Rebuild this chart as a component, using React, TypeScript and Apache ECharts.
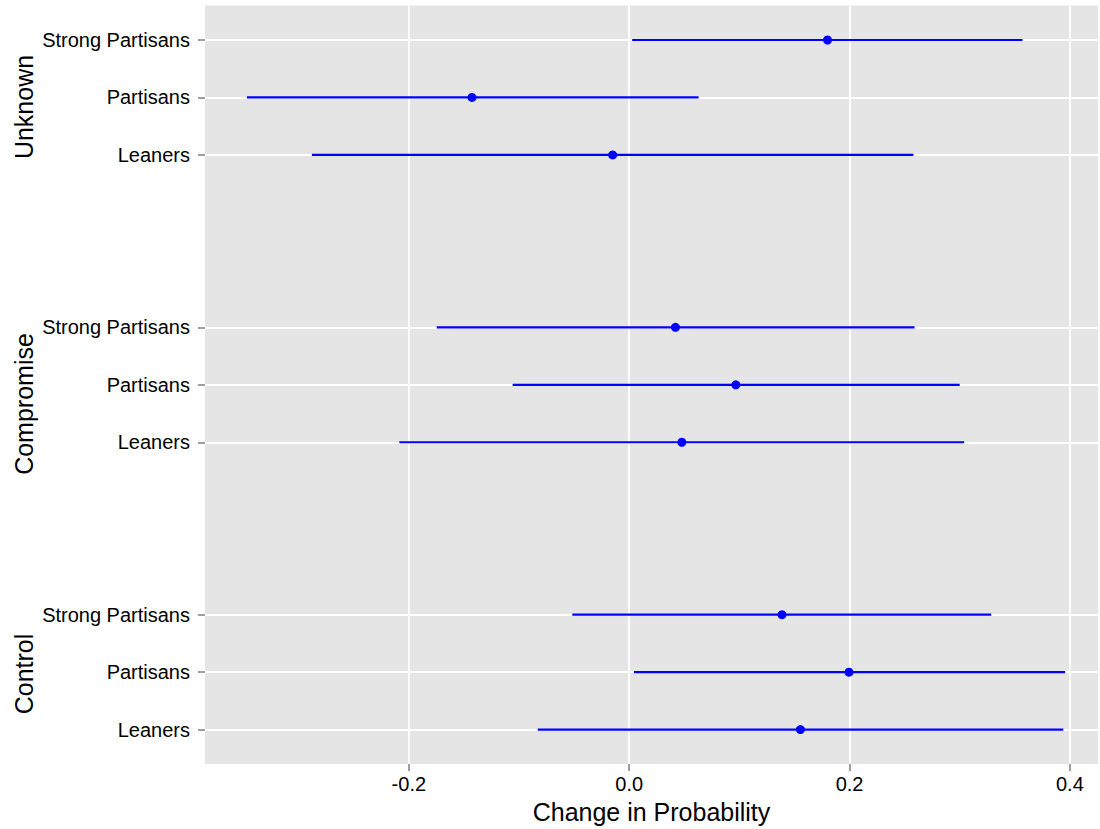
import React, { useEffect, useRef } from "react";
import * as echarts from "echarts";

// Groups (top to bottom) and partisan levels within each group
const groups = ["Unknown", "Compromise", "Control"];
const levels = ["Strong Partisans", "Partisans", "Leaners"];

// Point estimates, per group, in level order
const estUnknown = [0.18, -0.1427, -0.015];
const estCompromise = [0.042, 0.0968, 0.0478];
const estControl = [0.1387, 0.1995, 0.1554];

// Lower bounds
const lowUnknown = [0.0027, -0.347, -0.288];
const lowCompromise = [-0.1747, -0.1058, -0.2086];
const lowControl = [-0.0516, 0.0042, -0.083];

// Upper bounds
const highUnknown = [0.357, 0.063, 0.258];
const highCompromise = [0.259, 0.3, 0.304];
const highControl = [0.3286, 0.3957, 0.394];

// X tick values
const xTicks = [-0.2, 0, 0.2, 0.4];

const SLOTS_PER_GROUP = 5; // 3 rows + 2 blank rows between groups
const FONT = "'Liberation Sans', Arial, Helvetica, sans-serif";
const BLUE = "#0000FF";

export default function App() {
  const ref = useRef<HTMLDivElement>(null);

  useEffect(() => {
    if (!ref.current) return;
    const chart = echarts.init(ref.current, null, { renderer: "svg" });

    const est = [estUnknown, estCompromise, estControl];
    const low = [lowUnknown, lowCompromise, lowControl];
    const high = [highUnknown, highCompromise, highControl];

    const slots: number[] = [];
    const whiskers: number[][] = [];
    const points: number[][] = [];
    groups.forEach((g, gi) => {
      levels.forEach((l, li) => {
        const s = gi * SLOTS_PER_GROUP + li;
        slots.push(s);
        whiskers.push([low[gi][li], high[gi][li], s]);
        points.push([est[gi][li], s]);
      });
    });
    const nSlots = (groups.length - 1) * SLOTS_PER_GROUP + levels.length;

    chart.setOption({
      animation: false,
      backgroundColor: "#ffffff",
      grid: {
        left: 205,
        right: 2,
        top: 5.5,
        bottom: 64.5,
        show: true,
        backgroundColor: "#E5E5E5",
        borderWidth: 0,
      },
      xAxis: {
        type: "value",
        position: "bottom",
        min: -0.385,
        max: 0.4255,
        axisLine: { show: false, onZero: false },
        axisTick: {
          show: true,
          length: 7,
          customValues: xTicks,
          lineStyle: { color: "#7F7F7F", width: 1.5 },
        },
        axisLabel: {
          customValues: xTicks,
          fontSize: 20,
          fontFamily: FONT,
          color: "#000000",
          margin: 10,
          formatter: (v: number) => v.toFixed(1),
        },
        splitLine: {
          show: true,
          lineStyle: { color: "#FFFFFF", width: 1.8 },
        },
        name: "Change in Probability",
        nameLocation: "middle",
        nameGap: 33,
        nameTextStyle: { fontSize: 25, fontFamily: FONT, color: "#000000" },
      },
      yAxis: {
        type: "value",
        position: "left",
        inverse: true,
        min: -0.6,
        max: nSlots - 1 + 0.6,
        axisLine: { show: false, onZero: false },
        axisTick: {
          show: true,
          length: 7,
          customValues: slots,
          lineStyle: { color: "#7F7F7F", width: 1.5 },
        },
        axisLabel: {
          customValues: slots,
          fontSize: 20,
          fontFamily: FONT,
          color: "#000000",
          margin: 15,
          formatter: (v: number) => levels[Math.round(v) % SLOTS_PER_GROUP] ?? "",
        },
        splitLine: {
          show: true,
          lineStyle: { color: "#FFFFFF", width: 1.8 },
        },
      },
      graphic: groups.map((g, gi) => ({
        type: "text",
        x: 24,
        y: [107, 404, 674][gi],
        rotation: Math.PI / 2,
        style: {
          text: g,
          fontSize: 25,
          fontFamily: FONT,
          fill: "#000000",
          align: "center",
          verticalAlign: "middle",
        },
      })),
      series: [
        {
          type: "custom",
          data: whiskers,
          encode: { x: [0, 1], y: 2 },
          renderItem: (params: any, api: any) => {
            const p1 = api.coord([api.value(0), api.value(2)]);
            const p2 = api.coord([api.value(1), api.value(2)]);
            return {
              type: "line",
              shape: { x1: p1[0], y1: p1[1], x2: p2[0], y2: p2[1] },
              style: { stroke: BLUE, lineWidth: 2.2 },
            };
          },
          z: 2,
        },
        {
          type: "scatter",
          data: points,
          symbol: "circle",
          symbolSize: 9,
          itemStyle: { color: BLUE, opacity: 1 },
          z: 3,
        },
      ],
    });

    return () => chart.dispose();
  }, []);

  return (
    <div
      ref={ref}
      style={{ position: "fixed", left: 0, top: 0, width: 1100, height: 829 }}
    />
  );
}
